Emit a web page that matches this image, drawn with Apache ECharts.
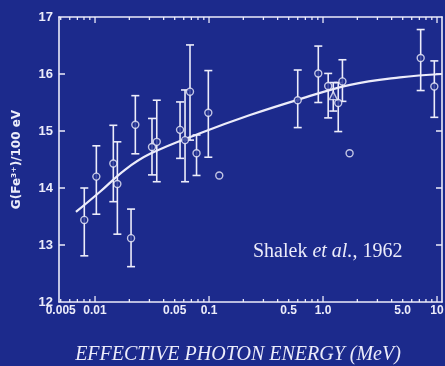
<!DOCTYPE html>
<html>
<head>
<meta charset="utf-8">
<script src="https://cdn.jsdelivr.net/npm/echarts@6/dist/echarts.min.js"></script>
<style>
html,body{margin:0;padding:0;background:#1c2a8c;}
#c{width:445px;height:366px;}
</style>
</head>
<body>
<div id="c"></div>
<script>
// Measured data points (effective photon energy in MeV, G(Fe3+) per 100 eV)
const energy = [0.00805, 0.01027, 0.01447, 0.0157, 0.0207, 0.02257, 0.0316, 0.0348, 0.0557, 0.0616, 0.0681, 0.0777, 0.0986, 0.123, 0.600, 0.909, 1.11, 1.36, 1.48, 1.71, 7.19, 9.47];
const gValue = [13.44, 14.20, 14.43, 14.07, 13.12, 15.11, 14.72, 14.81, 15.02, 14.84, 15.69, 14.61, 15.32, 14.22, 15.54, 16.01, 15.79, 15.49, 15.87, 14.61, 16.28, 15.78];
const errLow = [12.81, 13.54, 13.76, 13.19, 12.62, 14.60, 14.23, 14.11, 14.52, 14.11, 14.84, 14.22, 14.54, null, 15.06, 15.50, 15.23, 14.99, 15.52, null, 15.71, 15.24];
const errHigh = [14.00, 14.74, 15.10, 14.81, 13.63, 15.62, 15.22, 15.54, 15.51, 15.72, 16.51, 14.93, 16.06, null, 16.07, 16.49, 16.01, 15.85, 16.25, null, 16.78, 16.23];
// Triangle-marked point
const triEnergy = [1.23];
const triG = [15.62];
const triLow = [15.35];
const triHigh = [15.85];
// Fitted curve
const fitEnergy = [0.0068, 0.011, 0.0183, 0.0304, 0.0834, 0.229, 0.629, 1.73, 4.73, 11.0];
const fitG = [13.58, 13.93, 14.32, 14.60, 14.96, 15.28, 15.56, 15.81, 15.94, 16.00];
// Axis ticks
const xTickValues = [0.005, 0.01, 0.05, 0.1, 0.5, 1, 5, 10];
const xTickLabels = ['0.005', '0.01', '0.05', '0.1', '0.5', '1.0', '5.0', '10'];
const xMajorTicks = [0.01, 0.1, 1, 10];
const xMinorTicks = [0.005, 0.006, 0.007, 0.008, 0.009, 0.02, 0.03, 0.04, 0.05, 0.06, 0.07, 0.08, 0.09, 0.2, 0.3, 0.4, 0.5, 0.6, 0.7, 0.8, 0.9, 2, 3, 4, 5, 6, 7, 8, 9];
const yTickValues = [13, 14, 15, 16];
const yTickLabels = ['12', '13', '14', '15', '16', '17'];

const fg = '#ececfa';
const bg = '#1c2a8c';
const xMin = 0.00483, xMax = 11.06;
const yMin = 12, yMax = 17;

const errData = [];
for (let i = 0; i < energy.length; i++) {
  if (errLow[i] != null) errData.push([energy[i], errLow[i], errHigh[i]]);
}
for (let i = 0; i < triEnergy.length; i++) errData.push([triEnergy[i], triLow[i], triHigh[i]]);

const xTickData = xMajorTicks.map(v => [v, yMin, 1]).concat(xMinorTicks.map(v => [v, yMin, 0]));
const yTickData = yTickValues.map(v => [xMin, v]);

const chart = echarts.init(document.getElementById('c'));
chart.setOption({
  backgroundColor: bg,
  animation: false,
  grid: { left: 59, right: 3, top: 17, bottom: 64, containLabel: false, outerBoundsMode: 'none' },
  xAxis: [
    {
      type: 'log', logBase: 10, min: xMin, max: xMax, position: 'bottom',
      axisLine: { show: true, lineStyle: { color: fg, width: 1.6 } },
      axisTick: { show: false },
      axisLabel: {
        show: true, customValues: xTickValues, margin: 3,
        color: fg, fontFamily: 'Liberation Sans', fontWeight: 'bold', fontSize: 12,
        formatter: function (v) {
          for (let i = 0; i < xTickValues.length; i++) if (Math.abs(xTickValues[i] - v) / v < 1e-6) return xTickLabels[i];
          return '';
        }
      },
      splitLine: { show: false }, minorTick: { show: false }
    },
    {
      type: 'log', logBase: 10, min: xMin, max: xMax, position: 'top',
      axisLine: { show: true, lineStyle: { color: fg, width: 1.6 } },
      axisTick: { show: false }, axisLabel: { show: false }, splitLine: { show: false }
    }
  ],
  yAxis: [
    {
      type: 'value', min: yMin, max: yMax, interval: 1, position: 'left',
      name: 'G(Fe³⁺)/100 eV', nameLocation: 'middle', nameRotate: 90, nameGap: 36,
      nameTextStyle: { color: fg, fontFamily: 'DejaVu Sans', fontWeight: 'bold', fontSize: 12 },
      axisLine: { show: true, lineStyle: { color: fg, width: 1.6 } },
      axisTick: { show: false },
      axisLabel: { color: fg, fontFamily: 'Liberation Sans', fontWeight: 'bold', fontSize: 13, margin: 6,
        formatter: function (v) { return yTickLabels[Math.round(v - yMin)]; } },
      splitLine: { show: false }
    },
    {
      type: 'value', min: yMin, max: yMax, interval: 1, position: 'right',
      axisLine: { show: true, lineStyle: { color: fg, width: 1.6 } },
      axisTick: { show: false },
      axisLabel: { show: false }, splitLine: { show: false }
    }
  ],
  series: [
    {
      // x-axis tick marks on bottom and top edges (log-spaced)
      type: 'custom', xAxisIndex: 0, yAxisIndex: 0,
      encode: { x: 0, y: 1 },
      data: xTickData,
      silent: true,
      renderItem: function (params, api) {
        const v = api.value(0), major = api.value(2);
        const b = api.coord([v, yMin]), t = api.coord([v, yMax]);
        const len = major ? 6 : 3;
        const st = { stroke: fg, lineWidth: 1.3 };
        return { type: 'group', children: [
          { type: 'line', shape: { x1: b[0], y1: b[1], x2: b[0], y2: b[1] - len }, style: st },
          { type: 'line', shape: { x1: t[0], y1: t[1], x2: t[0], y2: t[1] + len }, style: st }
        ] };
      },
      z: 1
    },
    {
      // y-axis tick marks on left and right edges
      type: 'custom', xAxisIndex: 0, yAxisIndex: 0,
      encode: { x: 0, y: 1 },
      data: yTickData,
      silent: true,
      renderItem: function (params, api) {
        const v = api.value(1);
        const l = api.coord([xMin, v]), r = api.coord([xMax, v]);
        const st = { stroke: fg, lineWidth: 1.5 };
        return { type: 'group', children: [
          { type: 'line', shape: { x1: l[0], y1: l[1], x2: l[0] + 6, y2: l[1] }, style: st },
          { type: 'line', shape: { x1: r[0], y1: r[1], x2: r[0] - 6, y2: r[1] }, style: st }
        ] };
      },
      z: 1
    },
    {
      type: 'custom', xAxisIndex: 0, yAxisIndex: 0,
      encode: { x: 0, y: [1, 2] },
      data: errData,
      renderItem: function (params, api) {
        const x = api.value(0), lo = api.value(1), hi = api.value(2);
        const p1 = api.coord([x, hi]), p2 = api.coord([x, lo]);
        const w = 4;
        const st = { stroke: fg, lineWidth: 1.6 };
        return { type: 'group', children: [
          { type: 'line', shape: { x1: p1[0], y1: p1[1], x2: p2[0], y2: p2[1] }, style: st },
          { type: 'line', shape: { x1: p1[0] - w, y1: p1[1], x2: p1[0] + w, y2: p1[1] }, style: st },
          { type: 'line', shape: { x1: p2[0] - w, y1: p2[1], x2: p2[0] + w, y2: p2[1] }, style: st }
        ] };
      },
      z: 2
    },
    {
      type: 'line', xAxisIndex: 0, yAxisIndex: 0,
      data: fitEnergy.map((e, i) => [e, fitG[i]]),
      smooth: 0.4, showSymbol: false, symbol: 'none',
      lineStyle: { color: fg, width: 2.2 }, z: 3
    },
    {
      type: 'scatter', xAxisIndex: 0, yAxisIndex: 0,
      data: energy.map((e, i) => [e, gValue[i]]),
      symbol: 'circle', symbolSize: 7,
      itemStyle: { color: bg, borderColor: fg, borderWidth: 1.4 }, z: 4
    },
    {
      type: 'scatter', xAxisIndex: 0, yAxisIndex: 0,
      data: triEnergy.map((e, i) => [e, triG[i]]),
      symbol: 'triangle', symbolSize: 8,
      itemStyle: { color: bg, borderColor: fg, borderWidth: 1.4 }, z: 4
    }
  ],
  graphic: [
    {
      type: 'text', left: 253, top: 242,
      style: {
        text: '{a|Shalek }{b|et al.}{a|, 1962}',
        rich: {
          a: { fill: fg, fontFamily: 'Liberation Serif', fontSize: 20 },
          b: { fill: fg, fontFamily: 'Liberation Serif', fontStyle: 'italic', fontSize: 20 }
        }
      }
    },
    {
      type: 'text', x: 238, y: 355,
      style: {
        text: 'EFFECTIVE PHOTON ENERGY (MeV)', fill: fg,
        fontFamily: 'Liberation Serif', fontStyle: 'italic', fontSize: 20,
        align: 'center', verticalAlign: 'middle'
      }
    }
  ]
});
</script>
</body>
</html>
